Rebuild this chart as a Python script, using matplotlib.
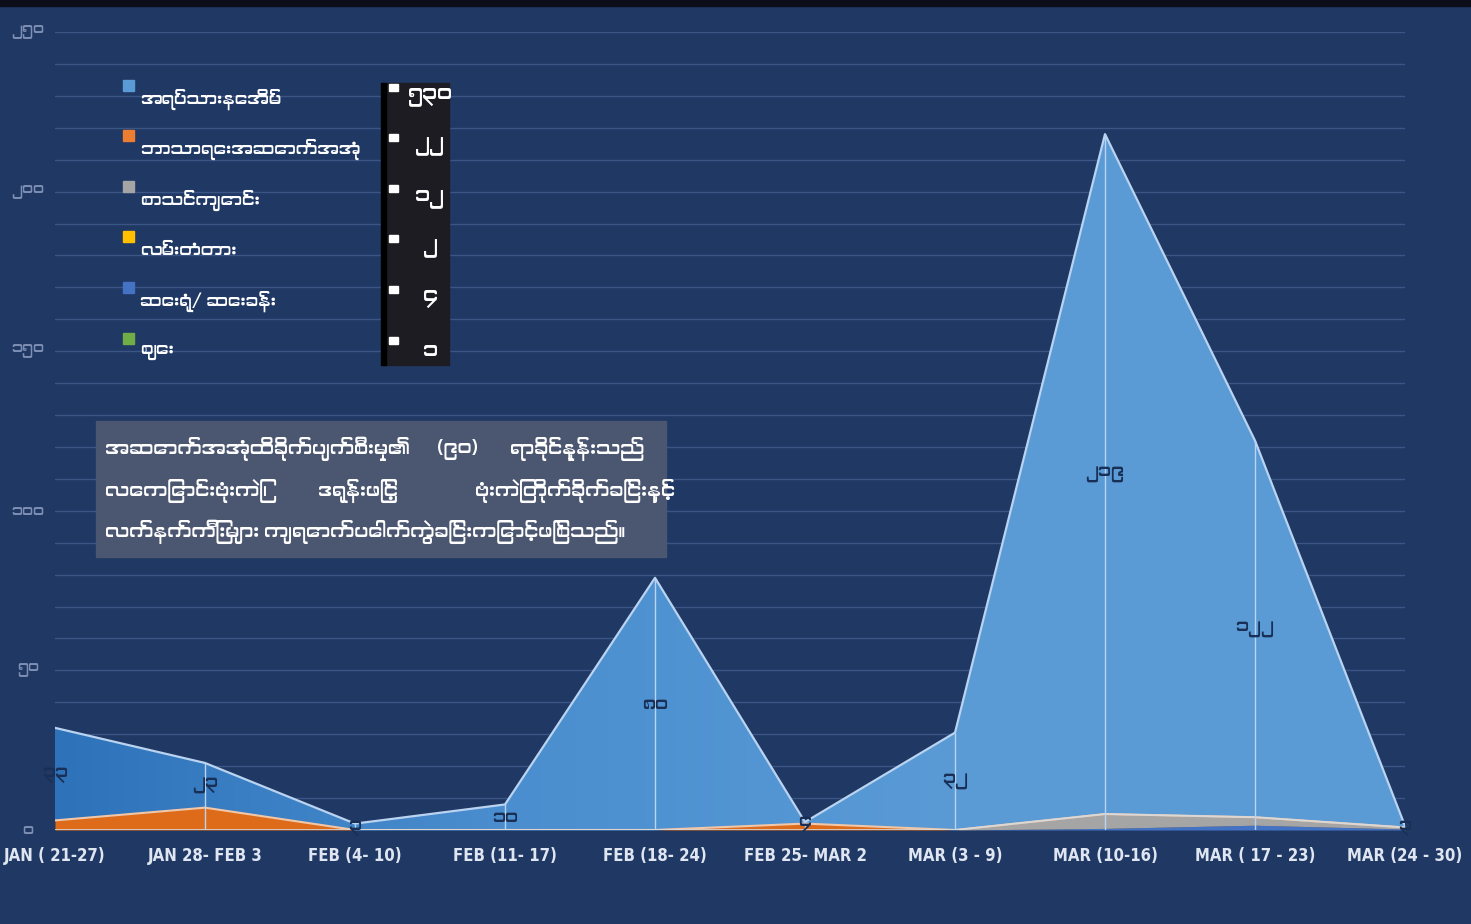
import numpy as np
import matplotlib.pyplot as plt
from matplotlib import font_manager
from matplotlib.colors import LinearSegmentedColormap
from matplotlib.patches import Rectangle

# Weekly categories on the x axis
weeks = ['JAN ( 21-27)', 'JAN 28- FEB 3', 'FEB (4- 10)', 'FEB (11- 17)', 'FEB (18- 24)',
         'FEB 25- MAR 2', 'MAR (3 - 9)', 'MAR (10-16)', 'MAR ( 17 - 23)', 'MAR (24 - 30)']

# Series names (legend order) and the values
names = ['အရပ်သားနေအိမ်', 'ဘာသာရေးအဆောက်အအုံ', 'စာသင်ကျောင်း', 'လမ်းတံတား', 'ဆေးရုံ/ ဆေးခန်း', 'ဈေး']
houses = [29, 14, 2, 8, 79, 0.5, 30.5, 213, 118, 0.5]
religious = [3, 7, 0, 0, 0, 2, 0, 0, 0, 0]
schools = [0, 0, 0, 0, 0, 0, 0, 4.5, 2.5, 0.5]
roads = [0, 0, 0, 0, 0, 0, 0, 0, 0, 0]
clinics = [0, 0, 0, 0, 0, 0, 0, 0.5, 1.5, 0.3]
markets = [0, 0, 0, 0, 0, 0, 0, 0, 0, 0]

# Totals shown in the legend box and the labels printed on the blue area
legend_totals = ['၅၃၀', '၂၂', '၁၂', '၂', '၄', '၁']
point_labels = ['၃၃', '၂၃', '၃', '၁၀', '၈၀', '၄', '၃၂', '၂၁၉', '၁၂၂', '၃']
ytick_vals = [0, 50, 100, 150, 200, 250]
ytick_labels = ['၀', '၅၀', '၁၀၀', '၁၅၀', '၂၀၀', '၂၅၀']

note_lines = [
    ['အဆောက်အအုံထိခိုက်ပျက်စီးမှု၏', '(၉၀)', 'ရာခိုင်နှုန်းသည်'],
    ['လေကြောင်းဗုံးကြဲ၊', 'ဒရုန်းဖြင့်', 'ဗုံးကြဲတိုက်ခိုက်ခြင်းနှင့်'],
    ['လက်နက်ကြီးများ ကျရောက်ပေါက်ကွဲခြင်းကြောင့်ဖြစ်သည်။'],
]

# look for any font that can draw Myanmar script
mm_fonts = []
for f in font_manager.fontManager.ttflist:
    if any(k in f.name for k in ('Myanmar', 'Padauk', 'Pyidaungsu')):
        mm_fonts.append(f.name)
mm_family = list(dict.fromkeys(mm_fonts)) + ['DejaVu Sans']

W, H = 1471, 924
BG = '#203864'
fig = plt.figure(figsize=(W / 100, H / 100), dpi=100, facecolor=BG)
ax = fig.add_axes([55 / W, 1 - 830 / H, 1350 / W, 798 / H])
ax.set_facecolor(BG)

x = np.arange(len(weeks))
stack_order = [markets, clinics, roads, schools, religious, houses]
colors = ['#70ad47', '#4472c4', '#ffc000', '#a5a5a5', '#dd6b1a', '#4f92d2']

base = np.zeros(len(weeks))
tops = []
for vals, col in zip(stack_order, colors):
    top = base + np.array(vals, dtype=float)
    poly = ax.fill_between(x, base, top, color=col, lw=0, zorder=2)
    if vals is houses:
        # horizontal gradient, darker on the left
        cmap = LinearSegmentedColormap.from_list('g', ['#2e73ba', '#4a8ecf', '#5a9bd6', '#5b9cd6'])
        grad = np.linspace(0, 1, 256).reshape(1, -1)
        im = ax.imshow(grad, cmap=cmap, aspect='auto', extent=[0, len(weeks) - 1, 0, 260],
                       origin='lower', zorder=2.1)
        im.set_clip_path(poly.get_paths()[0], transform=ax.transData)
    tops.append((base.copy(), top.copy()))
    base = top

total = base
# edge lines on top of the main bands
ax.plot(x, tops[4][1], color='#f3c7a6', lw=1.5, zorder=3)
ax.plot(x, tops[3][1], color='#d9d9d9', lw=1.2, zorder=3)
ax.plot(x, total, color='#b9d3f0', lw=1.6, zorder=3)
ax.vlines(x[1:-1], 0, total[1:-1], color='#b9d3f0', lw=1, zorder=3)

# data labels in the middle of the blue band
for i, lab in enumerate(point_labels):
    yb, yt = tops[5][0][i], tops[5][1][i]
    ax.text(x[i], (yb + yt) / 2, lab, ha='center', va='center', fontsize=13,
            color='#1a2f55', family=mm_family, zorder=4)

ax.set_xlim(0, len(weeks) - 1)
ax.set_ylim(0, 250)
ax.set_yticks(np.arange(0, 251, 10))
ax.yaxis.grid(True, color='#3b5584', lw=1)
ax.set_axisbelow(True)
ax.set_yticklabels([])
ax.tick_params(length=0)
for s in ax.spines.values():
    s.set_visible(False)
ax.set_xticks(x)
ax.set_xticklabels(weeks, fontsize=12, fontweight='bold', color='#dfe6f2',
                   family='DejaVu Sans', fontstretch='condensed')
ax.tick_params(axis='x', pad=12)

for v, lab in zip(ytick_vals, ytick_labels):
    ax.text(-0.02, v, lab, transform=ax.get_yaxis_transform(), ha='center', va='center',
            fontsize=11, color='#7d8fb3', family=mm_family)


def px(xp, yp):
    return xp / W, 1 - yp / H


# dark strip at the very top
fig.patches.append(Rectangle((0, 1 - 6 / H), 1, 6 / H, transform=fig.transFigure,
                             color='#0b0e18', zorder=0))

# legend
leg_cols = ['#5b9bd5', '#ed7d31', '#a5a5a5', '#ffc000', '#4472c4', '#70ad47']
leg_y = [97, 147, 198, 248, 299, 350]
for name, col, yy in zip(names, leg_cols, leg_y):
    fig.patches.append(Rectangle(px(123, yy - 6), 11 / W, 11 / H, transform=fig.transFigure,
                                 color=col, zorder=5))
    fig.text(*px(140, yy + 2), name, fontsize=12.5, fontweight='bold', color='white',
             va='center', ha='left', family=mm_family)

# box with the totals
fig.patches.append(Rectangle(px(383, 365), 66 / W, 282 / H, transform=fig.transFigure,
                             color='#1d1c22', zorder=4))
fig.patches.append(Rectangle(px(381, 365), 5 / W, 282 / H, transform=fig.transFigure,
                             color='#000000', zorder=4))
for tot, yy in zip(legend_totals, leg_y):
    fig.patches.append(Rectangle(px(389, yy - 6), 9 / W, 7 / H, transform=fig.transFigure,
                                 color='white', zorder=5))
    fig.text(*px(430, yy), tot, fontsize=15, color='white', ha='center', va='center',
             family=mm_family, zorder=6)

# note box
fig.patches.append(Rectangle(px(96, 557), 570 / W, 136 / H, transform=fig.transFigure,
                             color='#4b5670', zorder=4))
note_x = [[105, 437, 510], [105, 318, 475], [105]]
note_y = [449, 491, 532]
for words, xs, yy in zip(note_lines, note_x, note_y):
    for w, xx in zip(words, xs):
        fig.text(*px(xx, yy), w, fontsize=14, color='white', ha='left', va='center',
                 family=mm_family, zorder=6)

fig.savefig('out.png', dpi=100, facecolor=BG)
